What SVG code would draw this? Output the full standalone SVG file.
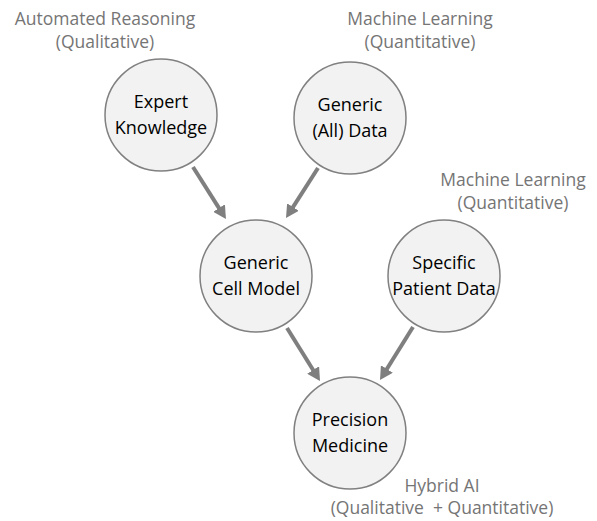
<svg xmlns="http://www.w3.org/2000/svg" width="597" height="521" viewBox="0 0 597 521">
<style>
.node circle{fill:#f2f2f2;stroke:#808080;stroke-width:1.5}
.node text{font-family:"Open Sans","Liberation Sans",sans-serif;font-size:18px;fill:#000;text-anchor:middle}
.lbl{font-family:"Open Sans","Liberation Sans",sans-serif;font-size:17.5px;fill:#757575;text-anchor:middle}
.conn line{stroke:#7f7f7f;stroke-width:4}
</style>
<defs>
<marker id="ah" markerUnits="userSpaceOnUse" markerWidth="14" markerHeight="14" refX="3" refY="7" orient="auto">
<path d="M0,0 L13,7 L0,14 z" fill="#7f7f7f"/>
</marker>
</defs>
<rect width="597" height="521" fill="#fff"/>
<g id="labels">
<text class="lbl" x="105" y="25">Automated Reasoning</text>
<text class="lbl" x="105" y="48">(Qualitative)</text>
<text class="lbl" x="420" y="25">Machine Learning</text>
<text class="lbl" x="420" y="48">(Quantitative)</text>
<text class="lbl" x="513" y="186">Machine Learning</text>
<text class="lbl" x="513" y="209">(Quantitative)</text>
<text class="lbl" x="442" y="492">Hybrid AI</text>
<text class="lbl" x="442" y="514" xml:space="preserve">(Qualitative  + Quantitative)</text>
</g>
<g class="conn" id="connectors">
<line x1="193" y1="167" x2="220.6" y2="210.6" marker-end="url(#ah)"/>
<line x1="318" y1="168" x2="291.4" y2="209.6" marker-end="url(#ah)"/>
<line x1="287" y1="328" x2="314.7" y2="372.5" marker-end="url(#ah)"/>
<line x1="413" y1="327" x2="385.3" y2="371.5" marker-end="url(#ah)"/>
</g>
<g class="node" id="expert">
<circle cx="161" cy="115" r="56"/>
<text x="161" y="108">Expert</text>
<text x="161" y="134">Knowledge</text>
</g>
<g class="node" id="generic-data">
<circle cx="350" cy="118" r="56"/>
<text x="350" y="111">Generic</text>
<text x="350" y="137">(All) Data</text>
</g>
<g class="node" id="cell-model">
<circle cx="256" cy="276" r="56"/>
<text x="256" y="269">Generic</text>
<text x="256" y="295">Cell Model</text>
</g>
<g class="node" id="patient-data">
<circle cx="444" cy="276" r="56"/>
<text x="444" y="269">Specific</text>
<text x="444" y="295">Patient Data</text>
</g>
<g class="node" id="precision">
<circle cx="350" cy="433" r="56"/>
<text x="350" y="426">Precision</text>
<text x="350" y="452">Medicine</text>
</g>
</svg>
